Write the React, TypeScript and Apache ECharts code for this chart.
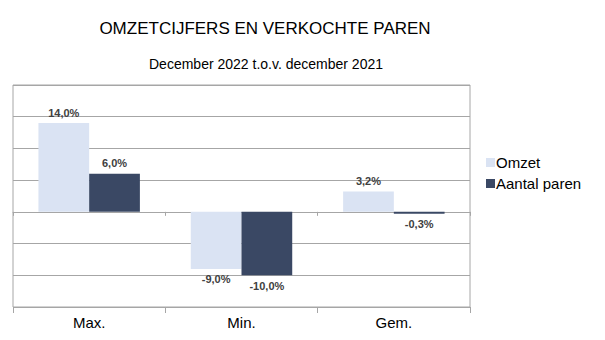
import React, { useEffect, useRef } from "react";
import * as echarts from "echarts";

const categories = ["Max.", "Min.", "Gem."];
const omzet = [14.0, -9.0, 3.2];
const aantalParen = [6.0, -10.0, -0.3];
const seriesNames = ["Omzet", "Aantal paren"];
const titleText = "OMZETCIJFERS EN VERKOCHTE PAREN";
const subtitleText = "December 2022 t.o.v. december 2021";

const fmt = (v: number) => v.toFixed(1).replace(".", ",") + "%";

const toData = (arr: number[]) =>
  arr.map((v) => ({
    value: v,
    label: { position: v < 0 ? "bottom" : "top" },
  }));

export default function App() {
  const ref = useRef<HTMLDivElement>(null);
  useEffect(() => {
    if (!ref.current) return;
    const chart = echarts.init(ref.current, undefined, { renderer: "svg" });
    const font = "Liberation Sans, Arial, sans-serif";
    const labelCfg = {
      show: true,
      formatter: (p: any) => fmt(p.value),
      fontFamily: font,
      fontSize: 11,
      fontWeight: "bold",
      color: "#404040",
      distance: 5,
    };
    chart.setOption({
      animation: false,
      backgroundColor: "#ffffff",
      title: [
        {
          text: titleText,
          left: 260,
          top: 15,
          textAlign: "center",
          textStyle: { fontFamily: font, fontSize: 17, fontWeight: "normal", color: "#000" },
        },
        {
          text: subtitleText,
          left: 261,
          top: 52,
          textAlign: "center",
          textStyle: { fontFamily: font, fontSize: 14, fontWeight: "normal", color: "#000" },
        },
      ],
      legend: {
        orient: "vertical",
        left: 481,
        top: 150,
        itemWidth: 9,
        itemHeight: 9,
        itemGap: 6,
        icon: "rect",
        data: seriesNames,
        textStyle: { fontFamily: font, fontSize: 15, color: "#000", padding: [0, 0, 0, -4] },
      },
      grid: {
        left: 13,
        right: 135,
        top: 85,
        bottom: 33,
        show: true,
        borderColor: "#a6a6a6",
        borderWidth: 1,
      },
      xAxis: [
        {
          type: "category",
          data: categories,
          axisLine: { show: true, onZero: true, lineStyle: { color: "#a6a6a6" } },
          axisTick: { show: true, length: 4, lineStyle: { color: "#a6a6a6" } },
          axisLabel: { show: false },
        },
        {
          type: "category",
          data: categories,
          position: "bottom",
          axisLine: { show: false, onZero: false },
          axisTick: { show: true, length: 6, lineStyle: { color: "#a6a6a6" } },
          axisLabel: { show: true, fontFamily: font, fontSize: 15, color: "#000", margin: 8 },
        },
      ],
      yAxis: {
        type: "value",
        min: -15,
        max: 20,
        interval: 5,
        axisLabel: { show: false },
        axisLine: { show: false },
        axisTick: { show: false },
        splitLine: { lineStyle: { color: "#a6a6a6" } },
      },
      series: [
        {
          name: seriesNames[0],
          type: "bar",
          data: toData(omzet),
          barWidth: "33.3%",
          barGap: "0%",
          itemStyle: { color: "#dae3f3" },
          label: labelCfg,
        },
        {
          name: seriesNames[1],
          type: "bar",
          data: toData(aantalParen),
          barWidth: "33.3%",
          barGap: "0%",
          itemStyle: { color: "#3a4864" },
          label: labelCfg,
        },
      ],
    });
    return () => chart.dispose();
  }, []);
  return (
    <div
      ref={ref}
      style={{ position: "fixed", left: 0, top: 0, width: 605, height: 340 }}
    />
  );
}
